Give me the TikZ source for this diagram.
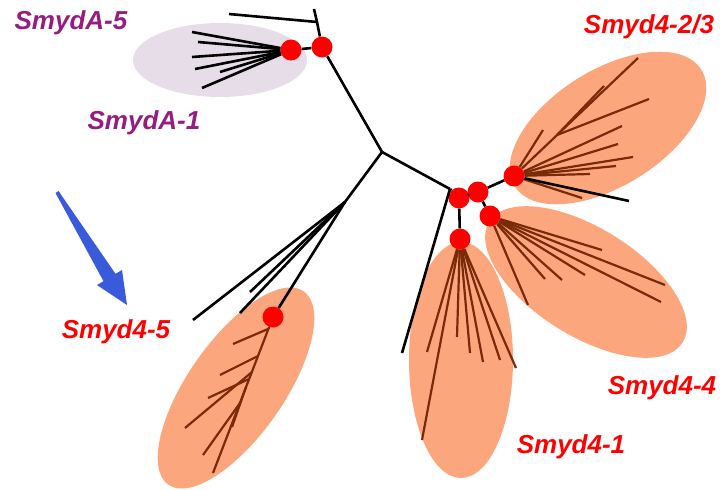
\documentclass[tikz,border=0pt]{standalone}
\usepackage{fontspec}
\setmainfont{Liberation Sans}
\usetikzlibrary{shapes}
\definecolor{blobred}{RGB}{252,166,126}
\definecolor{blobpurple}{RGB}{231,221,233}
\definecolor{twigbrown}{RGB}{122,42,8}
\definecolor{labelpurple}{RGB}{150,28,128}
\definecolor{arrowblue}{RGB}{58,90,220}
\begin{document}
\begin{tikzpicture}[x=1pt, y=-1pt,
  blob/.style={ellipse, fill=blobred, draw=none, inner sep=0pt},
  stem/.style={line width=2.6pt, black},
  twig/.style={line width=2.2pt, twigbrown},
  dot/.style={circle, fill=red, minimum size=21pt, inner sep=0pt},
  lbl/.style={font=\fontsize{26}{30}\selectfont\bfseries\itshape, text=red, inner sep=0pt}]
\useasboundingbox (0,0) rectangle (723,490);

\node[blob, fill=blobpurple, minimum width=174pt, minimum height=74pt] (ga) at (220,60) {};
\node[blob, minimum width=220pt, minimum height=116pt, rotate=32] (g23) at (608,128) {};
\node[blob, minimum width=228pt, minimum height=108pt, rotate=-32] (g44) at (586,282) {};
\node[blob, minimum width=236pt, minimum height=104pt, rotate=90] (g41) at (461,360) {};
\node[blob, minimum width=236pt, minimum height=96pt, rotate=55] (g45) at (236,388) {};

\node[dot] (da) at (291,50) {};
\node[dot] (dr) at (322,47) {};
\node[dot] (d0) at (459,198) {};
\node[dot] (d1) at (478,192) {};
\node[dot] (d23) at (514,176) {};
\node[dot] (d44) at (490,216) {};
\node[dot] (d41) at (460,239) {};
\node[dot] (d45) at (273,317) {};

\coordinate (tv) at (314,9);
\coordinate (th) at (229,14);
\coordinate (tj) at (317,22);
\coordinate (c) at (382,152);
\coordinate (lj) at (345,202);
\coordinate (rj) at (450,189);
\coordinate (rl) at (402,353);
\coordinate (l1) at (193,320);
\coordinate (l2) at (240,313);
\coordinate (l3) at (250,292);

\draw[stem] (tv) -- (tj);
\draw[stem] (th) -- (tj);
\draw[stem] (tj) -- (dr);
\draw[stem] (dr) -- (da);
\draw[stem] (dr) -- (c);
\draw[stem] (c) -- (lj);
\draw[stem] (lj) -- (l1);
\draw[stem] (lj) -- (l2);
\draw[stem] (lj) -- (l3);
\draw[stem] (lj) -- (d45);
\draw[stem] (c) -- (rj);
\draw[stem] (rj) -- (rl);
\draw[stem] (rj) -- (d0);
\draw[stem] (d0) -- (d1);
\draw[stem] (d0) -- (d41);
\draw[stem] (d1) -- (d23);
\draw[stem] (d1) -- (d44);

\foreach \n/\x/\y in {a1/192/32, a2/198/42, a3/192/57, a4/195/69, a5/202/88, a6/220/72}
  {\coordinate (\n) at (\x,\y); \draw[stem] (da) -- (\n);}

\coordinate (t23) at (638,58);
\coordinate (m23) at (557,135);
\draw[twig] (d23) -- (t23);
\foreach \n/\x/\y in {b1/543/130, b2/622/126, b3/618/144, b4/633/157, b5/616/166, b6/590/174, b7/582/198}
  {\coordinate (\n) at (\x,\y); \draw[twig] (d23) -- (\n);}
\foreach \n/\x/\y in {b8/604/86, b9/649/99}
  {\coordinate (\n) at (\x,\y); \draw[twig] (m23) -- (\n);}
\coordinate (b0) at (629,201);
\draw[stem] (d23) -- (b0);

\foreach \n/\x/\y in {e1/602/250, e2/665/285, e3/661/302, e4/585/275, e5/562/280, e6/545/279, e7/528/305}
  {\coordinate (\n) at (\x,\y); \draw[twig] (d44) -- (\n);}

\foreach \n/\x/\y in {f1/422/440, f2/427/352, f3/457/337, f4/470/353, f5/483/362, f6/500/360, f7/516/368}
  {\coordinate (\n) at (\x,\y); \draw[twig] (d41) -- (\n);}

\coordinate (t45) at (213,473);
\draw[twig] (d45) -- (t45);
\foreach \j/\jx/\jy/\n/\x/\y in {j1/268/329/g1/233/344, j2/258/356/g2/220/375, j3/252/372/g3/185/428,
    j4/249/379/g4/208/398, j5/246/387/g5/232/427, j6/240/403/g6/203/455}
  {\coordinate (\j) at (\jx,\jy); \coordinate (\n) at (\x,\y); \draw[twig] (\j) -- (\n);}

\fill[arrowblue] (55.5,193) -- (58.5,191) -- (115.5,273.8) -- (122,270) -- (127,305) -- (97,285) -- (103.5,281.2) -- cycle;

\node[lbl, text=labelpurple] (la5) at (71,23) {SmydA-5};
\node[lbl, text=labelpurple] (la1) at (144,123) {SmydA-1};
\node[lbl] (l23) at (649,27) {Smyd4-2/3};
\node[lbl] (l45) at (116,332) {Smyd4-5};
\node[lbl] (l44) at (662,388) {Smyd4-4};
\node[lbl] (l41) at (571,447) {Smyd4-1};
\end{tikzpicture}
\end{document}
